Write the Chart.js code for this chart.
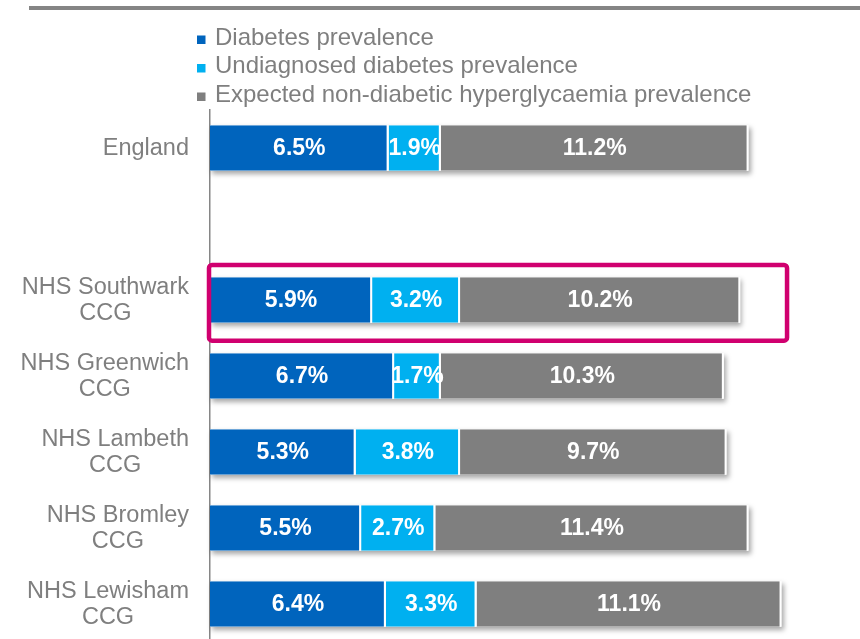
<!DOCTYPE html>
<html>
<head>
<meta charset="utf-8">
<script src="https://cdn.jsdelivr.net/npm/chart.js@4"></script>
<style>
  html, body { margin: 0; padding: 0; background: #fff; overflow: hidden; }
  #wrap { position: relative; width: 860px; height: 639px; overflow: hidden; }
  #topline { position: absolute; left: 29px; top: 6px; width: 831px; height: 4px; background: #858585; }
  #chart { position: absolute; left: 0; top: 0; }
</style>
</head>
<body>
<div id="wrap">
  <div id="topline"></div>
  <canvas id="chart" width="860" height="660"></canvas>
</div>
<script>
// Zones (une ligne vide entre l'Angleterre et les CCG)
const zones = [
  ["England"],
  [""],
  ["NHS Southwark", "CCG"],
  ["NHS Greenwich", "CCG"],
  ["NHS Lambeth", "CCG"],
  ["NHS Bromley", "CCG"],
  ["NHS Lewisham", "CCG"],
];

// Séries (en %)
const diabetes = [6.5, null, 5.9, 6.7, 5.3, 5.5, 6.4];
const undiagnosed = [1.9, null, 3.2, 1.7, 3.8, 2.7, 3.3];
const hyperglycaemia = [11.2, null, 10.2, 10.3, 9.7, 11.4, 11.1];

const seriesNames = [
  "Diabetes prevalence",
  "Undiagnosed diabetes prevalence",
  "Expected non-diabetic hyperglycaemia prevalence",
];
const seriesColors = ["#0064BD", "#00B0F0", "#7F7F7F"];

const highlightIndex = 2; // Southwark encadré
const highlightMax = 21;  // largeur du cadre en %

const textGrey = "#7F7F7F";
const fontFamily = '"Liberation Sans", Arial, sans-serif';

// Ombre portée sous chaque barre complète
const shadowPlugin = {
  id: "shadow",
  beforeDatasetsDraw(chart) {
    const ctx = chart.ctx;
    const x = chart.scales.x;
    const meta = chart.getDatasetMeta(0);
    ctx.save();
    ctx.shadowColor = "rgba(0,0,0,0.35)";
    ctx.shadowBlur = 5;
    ctx.shadowOffsetX = 2;
    ctx.shadowOffsetY = 3;
    ctx.fillStyle = "#fff";
    meta.data.forEach((el, i) => {
      let total = 0;
      chart.data.datasets.forEach((ds) => { total += ds.data[i] || 0; });
      if (!total) return;
      const x0 = x.getPixelForValue(0);
      const x1 = x.getPixelForValue(total);
      ctx.fillRect(x0, el.y - el.height / 2, x1 - x0, el.height);
    });
    ctx.restore();
  },
};

// Étiquettes de valeurs au centre des segments
const valueLabels = {
  id: "valueLabels",
  afterDatasetsDraw(chart) {
    const ctx = chart.ctx;
    ctx.save();
    ctx.font = "bold 23px " + fontFamily;
    ctx.fillStyle = "#fff";
    ctx.textAlign = "center";
    ctx.textBaseline = "middle";
    chart.data.datasets.forEach((ds, d) => {
      chart.getDatasetMeta(d).data.forEach((el, i) => {
        const v = ds.data[i];
        if (v == null) return;
        const c = el.getCenterPoint();
        ctx.fillText(v.toFixed(1) + "%", c.x, c.y + 1);
      });
    });
    ctx.restore();
  },
};

// Libellés de l'axe vertical, légende et cadre rose
const decorations = {
  id: "decorations",
  afterDraw(chart) {
    const ctx = chart.ctx;
    const area = chart.chartArea;
    const y = chart.scales.y;
    const x = chart.scales.x;

    // libellés des zones : bloc aligné à droite, lignes centrées
    ctx.save();
    ctx.font = "23.5px " + fontFamily;
    ctx.fillStyle = textGrey;
    ctx.textAlign = "center";
    ctx.textBaseline = "middle";
    const right = area.left - 21;
    zones.forEach((lines, i) => {
      const cy = y.getPixelForValue(i);
      const w = Math.max(...lines.map((l) => ctx.measureText(l).width));
      const cx = right - w / 2;
      lines.forEach((l, k) => {
        ctx.fillText(l, cx, cy + (k - (lines.length - 1) / 2) * 26 + 1);
      });
    });

    // légende verticale
    ctx.font = "24px " + fontFamily;
    ctx.textAlign = "left";
    ctx.textBaseline = "alphabetic";
    seriesNames.forEach((name, k) => {
      const base = 44.5 + k * 28.5;
      ctx.fillStyle = seriesColors[k];
      ctx.fillRect(197, base - 9, 8.5, 8.5);
      ctx.fillStyle = textGrey;
      ctx.fillText(name, 215, base);
    });

    // cadre rose autour de Southwark
    const band = y.getPixelForValue(1) - y.getPixelForValue(0);
    const cy = y.getPixelForValue(highlightIndex);
    const top = cy - band * 0.46;
    const bottom = cy + band * 0.535;
    const left = x.getPixelForValue(0) - 1;
    const rx = x.getPixelForValue(highlightMax);
    ctx.strokeStyle = "#D0006F";
    ctx.lineWidth = 4.5;
    ctx.beginPath();
    ctx.roundRect(left, top, rx - left, bottom - top, 3);
    ctx.stroke();
    ctx.restore();
  },
};

const labels = zones.map((z) => z.join(" "));
const seriesData = [diabetes, undiagnosed, hyperglycaemia];

new Chart(document.getElementById("chart"), {
  type: "bar",
  data: {
    labels: labels,
    datasets: seriesData.map((values, k) => ({
      label: seriesNames[k],
      data: values,
      backgroundColor: seriesColors[k],
      borderColor: "#fff",
      borderWidth: { left: 0, right: 2, top: 0, bottom: 0 },
      borderSkipped: false,
      barPercentage: 0.6,
      categoryPercentage: 1,
    })),
  },
  options: {
    indexAxis: "y",
    responsive: false,
    animation: false,
    layout: { padding: { top: 110, bottom: 18, right: 18, left: 0 } },
    plugins: {
      legend: { display: false },
      tooltip: { enabled: false },
    },
    scales: {
      x: {
        stacked: true,
        min: 0,
        max: 23,
        display: false,
      },
      y: {
        stacked: true,
        grid: { display: false },
        border: { display: true, color: "#868686", width: 1.5 },
        ticks: { display: false },
        afterFit(scale) { scale.width = 210; },
      },
    },
  },
  plugins: [shadowPlugin, valueLabels, decorations],
});
</script>
</body>
</html>
